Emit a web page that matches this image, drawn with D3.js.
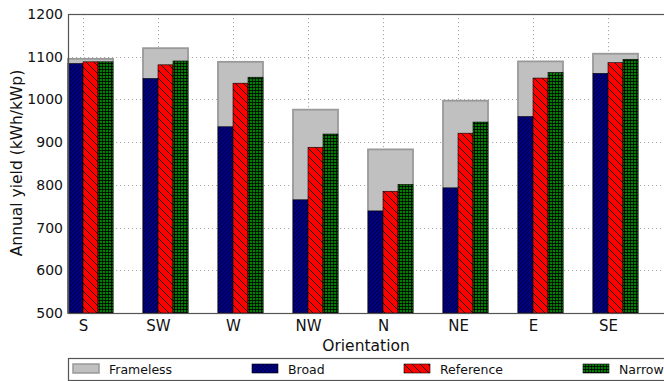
<!DOCTYPE html>
<html>
<head>
<meta charset="utf-8">
<script src="https://cdn.jsdelivr.net/npm/d3@7"></script>
<style>
  html, body { margin: 0; padding: 0; background: #fff; }
  svg { display: block; font-family: "DejaVu Sans", sans-serif; }
</style>
</head>
<body>
<svg id="chart" width="664" height="381"></svg>
<script>
// Annual yield per orientation for four module mounting variants
const orientations = ["S", "SW", "W", "NW", "N", "NE", "E", "SE"];
const frameless = [1095, 1120, 1088, 976, 883, 997, 1089, 1107];
const broad     = [1084, 1049, 936, 765, 739, 793, 960, 1061];
const reference = [1088, 1081, 1038, 888, 785, 921, 1050, 1086];
const narrow    = [1088, 1090, 1052, 919, 801, 947, 1063, 1094];
const yTicks = [500, 600, 700, 800, 900, 1000, 1100, 1200];

const svg = d3.select("#chart");
const plotLeft = 68, plotTop = 14, plotBottom = 313, plotRight = 668;

const x = d3.scaleLinear().domain([0, 8]).range([plotLeft, plotRight]);
const y = d3.scaleLinear().domain([500, 1200]).range([plotBottom, plotTop]);
const barW = 0.2;

// hatch patterns
const defs = svg.append("defs");
function pattern(id, fill, draw, size) {
  const p = defs.append("pattern").attr("id", id).attr("patternUnits", "userSpaceOnUse")
    .attr("width", size).attr("height", size);
  p.append("rect").attr("width", size).attr("height", size).attr("fill", fill);
  draw(p, size);
}
pattern("hBroad", "#000080", (p, s) => {
  p.append("path").attr("d", `M0,${s} L${s},0 M${-s/2},${s/2} L${s/2},${-s/2} M${s/2},${s*1.5} L${s*1.5},${s/2}`)
    .attr("stroke", "#000030").attr("stroke-width", 0.9);
}, 4);
pattern("hRef", "#ff0000", (p, s) => {
  p.append("path").attr("d", `M0,0 L${s},${s} M${-s/2},${s/2} L${s/2},${s*1.5} M${s/2},${-s/2} L${s*1.5},${s/2}`)
    .attr("stroke", "#000").attr("stroke-width", 0.9);
}, 8);
pattern("hNarrow", "#008000", (p, s) => {
  p.append("path").attr("d", `M0,0.5 L${s},0.5 M0.5,0 L0.5,${s}`)
    .attr("stroke", "#000").attr("stroke-width", 0.8);
}, 3);

// grid
const grid = svg.append("g").attr("stroke", "#aaa").attr("stroke-dasharray", "1.2,2.8").attr("stroke-width", 1);
yTicks.slice(1, -1).forEach(v => {
  grid.append("line").attr("x1", plotLeft).attr("x2", plotRight)
    .attr("y1", Math.round(y(v)) + 0.5).attr("y2", Math.round(y(v)) + 0.5);
});
orientations.forEach((o, i) => {
  const gx = Math.round(x(i + barW)) + 0.5;
  grid.append("line").attr("x1", gx).attr("x2", gx).attr("y1", plotTop).attr("y2", plotBottom);
});

// frameless background bars
svg.append("g").selectAll("rect").data(frameless).join("rect")
  .attr("x", (d, i) => x(i))
  .attr("y", d => y(d))
  .attr("width", x(3 * barW) - x(0))
  .attr("height", d => y(500) - y(d))
  .attr("fill", "#c0c0c0")
  .attr("stroke", "#999").attr("stroke-width", 1.8);

const series = [
  { vals: broad, fill: "url(#hBroad)", off: 0 },
  { vals: reference, fill: "url(#hRef)", off: 1 },
  { vals: narrow, fill: "url(#hNarrow)", off: 2 }
];
series.forEach(s => {
  svg.append("g").selectAll("rect").data(s.vals).join("rect")
    .attr("x", (d, i) => x(i + s.off * barW))
    .attr("y", d => y(d))
    .attr("width", x(barW) - x(0))
    .attr("height", d => y(500) - y(d))
    .attr("fill", s.fill)
    .attr("stroke", "#000").attr("stroke-width", 0.6);
});

// frame
svg.append("rect").attr("x", plotLeft + 0.5).attr("y", plotTop + 0.5)
  .attr("width", plotRight - plotLeft).attr("height", plotBottom - plotTop)
  .attr("fill", "none").attr("stroke", "#555").attr("stroke-width", 1.2);

// y axis
const yAxis = svg.append("g").attr("transform", `translate(${plotLeft},0)`)
  .call(d3.axisLeft(y).tickValues(yTicks).tickFormat(d3.format("d")).tickSize(0).tickPadding(5));
yAxis.select(".domain").remove();
yAxis.selectAll("text").attr("font-size", 14).attr("fill", "#111").attr("font-family", "DejaVu Sans");

// x axis
const xAxis = svg.append("g").attr("transform", `translate(0,${plotBottom})`)
  .call(d3.axisBottom(x).tickValues(orientations.map((o, i) => i + barW))
    .tickFormat((d, i) => orientations[i]).tickSize(0).tickPadding(7));
xAxis.select(".domain").remove();
xAxis.selectAll("text").attr("font-size", 15).attr("fill", "#111").attr("font-family", "DejaVu Sans");

// axis titles
svg.append("text").attr("x", 366).attr("y", 351).attr("text-anchor", "middle")
  .attr("font-size", 15.5).attr("fill", "#111").text("Orientation");
svg.append("text").attr("transform", "translate(22,163) rotate(-90)").attr("text-anchor", "middle")
  .attr("font-size", 15.5).attr("fill", "#111").text("Annual yield (kWh/kWp)");

// legend
const lg = svg.append("g");
lg.append("rect").attr("x", 68.5).attr("y", 358.5).attr("width", 620).attr("height", 22)
  .attr("fill", "#fff").attr("stroke", "#555").attr("stroke-width", 1.2);
const legendItems = [
  { label: "Frameless", fill: "#c0c0c0", stroke: "#999", sx: 73 },
  { label: "Broad", fill: "url(#hBroad)", stroke: "#000", sx: 252 },
  { label: "Reference", fill: "url(#hRef)", stroke: "#000", sx: 404 },
  { label: "Narrow", fill: "url(#hNarrow)", stroke: "#000", sx: 583 }
];
legendItems.forEach(it => {
  lg.append("rect").attr("x", it.sx).attr("y", 364).attr("width", 26).attr("height", 9)
    .attr("fill", it.fill).attr("stroke", it.stroke).attr("stroke-width", it.label === "Frameless" ? 1.5 : 0.6);
  lg.append("text").attr("x", it.sx + 36).attr("y", 373.5).attr("font-size", 12.5).attr("fill", "#111").text(it.label);
});
</script>
</body>
</html>
